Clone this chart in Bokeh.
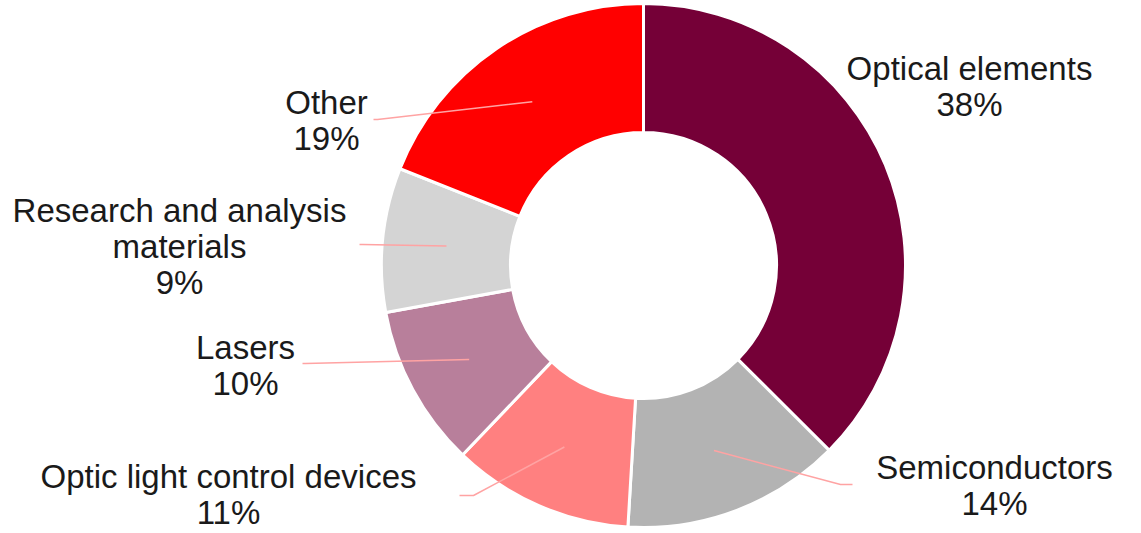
import math
from bokeh.plotting import figure
from bokeh.models import Range1d, ColumnDataSource
from bokeh.core.properties import value
from bokeh.embed import file_html
from bokeh.resources import INLINE

# ---- data ----
categories = ["Optical elements", "Semiconductors", "Optic light control devices",
              "Lasers", "Research and analysis\nmaterials", "Other"]
shares = [37.5, 13.5, 11.2, 10.0, 8.9, 19.0]
pct_labels = ["38%", "14%", "11%", "10%", "9%", "19%"]
colors = ["#750037", "#b3b3b3", "#ff8080", "#b87f9b", "#d4d4d4", "#ff0000"]

# ---- layout ----
W, H = 1141, 533
CX, CY = 643, H - 265
R_OUT, R_IN, R_LEAD = 262, 133, 198
LINE_STEP = 36.0
label_x = [969, 994, 228, 245, 179, 326]
label_y0 = [68, 467, 476, 347, 210, 102]          # first line centre, pixel rows from top
leader_elbow = [None, (840, 484), (473, 495), (305, 363), (362, 244), (377, 119)]
leader_end = [None, (852, 484), (459, 495), (302, 363), (359, 244), (373, 119)]

p = figure(width=W, height=H, output_backend="svg", toolbar_location=None,
           x_range=Range1d(0, W), y_range=Range1d(0, H),
           x_axis_type=None, y_axis_type=None, min_border=0)
p.outline_line_color = None
p.grid.visible = False
p.background_fill_color = "white"

total = sum(shares)
starts, ends, mids = [], [], []
cum = 0.0
for s in shares:
    a0 = math.pi / 2 - 2 * math.pi * cum / total
    cum += s
    a1 = math.pi / 2 - 2 * math.pi * cum / total
    starts.append(a0)
    ends.append(a1)
    mids.append((a0 + a1) / 2)

src = ColumnDataSource(dict(start=starts, end=ends, color=colors))
p.annular_wedge(x=CX, y=CY, inner_radius=R_IN, outer_radius=R_OUT,
                start_angle="start", end_angle="end", direction="clock",
                fill_color="color", line_color="white", line_width=3, source=src)

# leader lines
for i, m in enumerate(mids):
    if leader_elbow[i] is None:
        continue
    x0 = CX + R_LEAD * math.cos(m)
    y0 = CY + R_LEAD * math.sin(m)
    ex, ey = leader_elbow[i]
    fx, fy = leader_end[i]
    p.line([x0, ex, fx], [y0, H - ey, H - fy], line_color="#ffa3a3",
           line_width=1.5)

tx, ty, tt = [], [], []
for i, (c, pc) in enumerate(zip(categories, pct_labels)):
    lines = c.split("\n") + [pc]
    for k, ln in enumerate(lines):
        tx.append(label_x[i])
        ty.append(H - (label_y0[i] + k * LINE_STEP))
        tt.append(ln)

p.text(x=tx, y=ty, text=tt, text_align="center", text_baseline="middle",
       text_font=value("Liberation Sans"), text_font_size="33px",
       text_color="#1a1a1a")

open("out.html", "w").write(file_html(p, INLINE))
